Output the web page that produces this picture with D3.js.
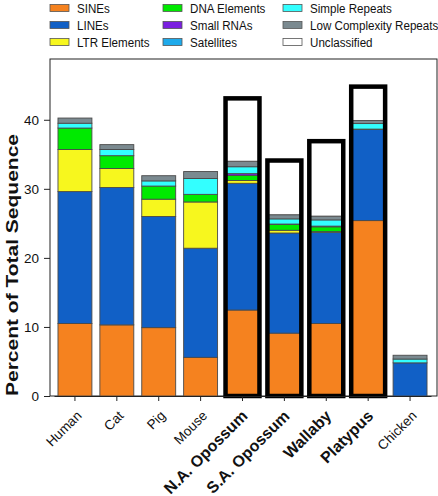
<!DOCTYPE html>
<html><head><meta charset="utf-8">
<script src="https://cdn.jsdelivr.net/npm/d3@7"></script>
<style>body{margin:0;background:#fff}svg{display:block;font-family:"Liberation Sans",Arial,sans-serif}</style>
</head><body><svg id="c" width="438" height="496"></svg>
<script>
const categories = ["Human","Cat","Pig","Mouse","N.A. Opossum","S.A. Opossum","Wallaby","Platypus","Chicken"];
const highlighted = [false,false,false,false,true,true,true,true,false];
const seriesNames = ["SINEs","LINEs","LTR Elements","DNA Elements","Small RNAs","Satellites","Simple Repeats","Low Complexity Repeats","Unclassified"];
const seriesColors = ["#f5821f","#1160c6","#f7f71e","#00ea00","#7a1fe0","#1eaaeb","#33ffff","#7b8a90","#ffffff"];
const sines       = [10.5, 10.3, 9.9, 5.6, 12.45, 9.1, 10.5, 25.4, 0.0];
const lines       = [19.1, 19.9, 16.1, 15.8, 18.35, 14.5, 13.2, 13.2, 4.8];
const ltr         = [6.1, 2.75, 2.5, 6.7, 0.4, 0.4, 0.1, 0.0, 0.0];
const dna         = [3.1, 1.85, 1.9, 1.1, 0.75, 0.85, 0.7, 0.05, 0.0];
const smallRNAs   = [0.0, 0.0, 0.0, 0.0, 0.25, 0.05, 0.1, 0.0, 0.0];
const satellites  = [0.0, 0.0, 0.0, 0.0, 0.0, 0.0, 0.0, 0.0, 0.0];
const simple      = [0.7, 0.9, 0.75, 2.3, 1.0, 0.75, 0.9, 0.8, 0.55];
const lowComplex  = [0.75, 0.7, 0.75, 1.0, 0.8, 0.6, 0.55, 0.45, 0.55];
const unclassified= [0, 0, 0, 0, 9.1, 7.85, 10.85, 4.9, 0];
const yTicks = [0,10,20,30,40];

const series = [sines,lines,ltr,dna,smallRNAs,satellites,simple,lowComplex,unclassified];
const table = categories.map((c,i)=>{const o={cat:c,hl:highlighted[i]};seriesNames.forEach((s,j)=>o[s]=series[j][i]);return o;});
const stacked = d3.stack().keys(seriesNames)(table);

const svg = d3.select("#c");
const L=50,R=437,T=59,B=396;
const x = d3.scaleBand().domain(categories).range([54,431]).paddingInner(0.19).paddingOuter(0.095);
const y = d3.scaleLinear().domain([0,48.8]).range([B,T]);

// frame
svg.append("rect").attr("x",L).attr("y",T).attr("width",R-L).attr("height",B-T).attr("fill","none").attr("stroke","#222").attr("stroke-width",1);

// bars
stacked.forEach((layer,j)=>{
  svg.append("g").selectAll("rect").data(layer.filter(d=>d[1]-d[0]>0)).join("rect")
    .attr("x",d=>x(d.data.cat)).attr("width",x.bandwidth())
    .attr("y",d=>y(d[1])).attr("height",d=>y(d[0])-y(d[1]))
    .attr("fill",seriesColors[j]).attr("stroke","#4a4a4a").attr("stroke-width",0.9);
});
// thick outlines for highlighted
svg.append("g").selectAll("rect").data(table.filter(d=>d.hl)).join("rect")
  .attr("x",d=>x(d.cat)).attr("width",x.bandwidth())
  .attr("y",d=>y(d3.sum(seriesNames,s=>d[s]))).attr("height",d=>y(0)-y(d3.sum(seriesNames,s=>d[s])))
  .attr("fill","none").attr("stroke","#000").attr("stroke-width",4.5);

// y axis
const ya = svg.append("g").attr("transform",`translate(${L},0)`).call(d3.axisLeft(y).tickValues(yTicks).tickSize(6).tickPadding(5));
ya.select(".domain").remove();
ya.selectAll("text").attr("font-size",13.5).attr("font-family","Liberation Sans, Arial").attr("fill","#111");
ya.selectAll("line").attr("stroke","#222");

// x axis
const xa = svg.append("g").attr("transform",`translate(0,${B})`).call(d3.axisBottom(x).tickSize(5).tickSizeOuter(0));
xa.select(".domain").attr("stroke","#222");
xa.selectAll("line").attr("stroke","#222");
xa.selectAll("text")
  .attr("font-family","Liberation Sans, Arial")
  .attr("font-size",(d,i)=>highlighted[i]?16:13.5)
  .attr("font-weight",(d,i)=>highlighted[i]?"bold":"normal")
  .attr("fill","#111")
  .attr("text-anchor","end").attr("dy","0.3em")
  .attr("transform",(d,i)=>highlighted[i]?"translate(-3,12) rotate(-45)":"translate(-1,12) rotate(-45)");

// y title
svg.append("text").attr("transform",`translate(18,${265}) rotate(-90)`)
  .attr("text-anchor","middle").attr("font-weight","bold").attr("font-size",16.5).attr("fill","#111")
  .attr("textLength",262).attr("lengthAdjust","spacingAndGlyphs")
  .text("Percent of Total Sequence");

// legend
const colX=[50,163,283], rowY=[8,25,42];
seriesNames.forEach((s,i)=>{
  const c=Math.floor(i/3), r=i%3;
  const g=svg.append("g").attr("transform",`translate(${colX[c]},${rowY[r]})`);
  g.append("rect").attr("x",0).attr("y",-3.5).attr("width",19).attr("height",7).attr("fill",seriesColors[i]).attr("stroke","#555").attr("stroke-width",0.8);
  g.append("text").attr("transform","translate(27,0) scale(0.86,1)").attr("dy","0.36em").attr("font-size",13.5).attr("fill","#111").text(s);
});
</script></body></html>
